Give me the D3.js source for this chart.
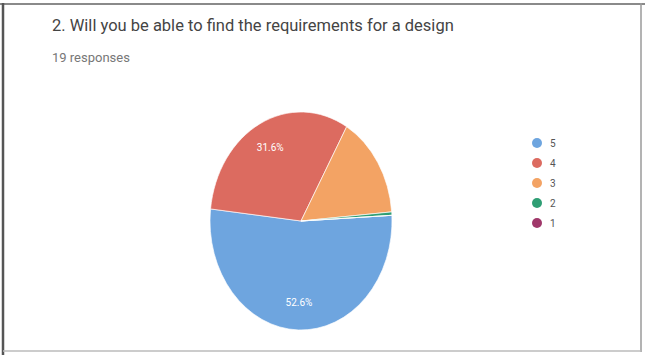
<!DOCTYPE html>
<html><head><meta charset="utf-8">
<script src="https://cdn.jsdelivr.net/npm/d3@7"></script>
<style>body{margin:0;background:#fff;}svg{display:block;}</style>
</head><body>
<svg id="c" width="645" height="355"></svg>
<script>
const title = "2. Will you be able to find the requirements for a design";
const subtitle = "19 responses";
const categories = ["5", "4", "3", "2", "1"];
const values = [52.6, 31.6, 15.3, 0.5, 0];
const colors = ["#6ea5df", "#dc6b60", "#f3a364", "#2f9e74", "#a0386a"];

const svg = d3.select("#c");
// frame
svg.append("rect").attr("x", 0).attr("y", 0).attr("width", 645).attr("height", 355).attr("fill", "#fff");
svg.append("line").attr("x1", 0).attr("x2", 645).attr("y1", 4).attr("y2", 4).attr("stroke", "#8a8a8a").attr("stroke-width", 2);
svg.append("line").attr("x1", 3).attr("x2", 3).attr("y1", 3).attr("y2", 355).attr("stroke", "#555").attr("stroke-width", 2.5);
svg.append("line").attr("x1", 641).attr("x2", 641).attr("y1", 3).attr("y2", 352).attr("stroke", "#9a9a9a").attr("stroke-width", 1.5);
svg.append("line").attr("x1", 3).attr("x2", 641).attr("y1", 351).attr("y2", 351).attr("stroke", "#bbb").attr("stroke-width", 1.5);

svg.append("text").attr("x", 52).attr("y", 31).text(title)
  .attr("font-family", "Roboto, sans-serif").attr("font-size", 16.5).attr("fill", "#444");
svg.append("text").attr("x", 52).attr("y", 62).text(subtitle)
  .attr("font-family", "Roboto, sans-serif").attr("font-size", 13).attr("fill", "#777");

const cx = 301, cy = 221, rx = 91, ry = 109;
const pie = d3.pie().sort(null).value(d => d).startAngle(87 * Math.PI / 180).endAngle(87 * Math.PI / 180 + 2 * Math.PI);
const arcs = pie(values);
const arc = d3.arc().innerRadius(0).outerRadius(rx);
const g = svg.append("g").attr("transform", `translate(${cx},${cy}) scale(1,${ry / rx})`);
g.selectAll("path").data(arcs).join("path")
  .attr("d", arc).attr("fill", (d, i) => colors[i])
  .attr("stroke", "#fff").attr("stroke-width", 0.6);

const total = d3.sum(values);
const labelArc = d3.arc().innerRadius(rx * 0.75).outerRadius(rx * 0.75);
svg.append("g").selectAll("text").data(arcs.filter(d => d.value / total > 0.2)).join("text")
  .attr("x", d => cx + labelArc.centroid(d)[0])
  .attr("y", d => cy + labelArc.centroid(d)[1] * ry / rx + 3)
  .attr("text-anchor", "middle")
  .attr("font-family", "Roboto, sans-serif").attr("font-size", 10).attr("fill", "#fff")
  .text(d => d3.format(".1f")(d.value / total * 100) + "%");

const lg = svg.append("g").selectAll("g").data(categories).join("g")
  .attr("transform", (d, i) => `translate(537,${143 + i * 20})`);
lg.append("circle").attr("r", 5).attr("fill", (d, i) => colors[i]);
lg.append("text").attr("x", 13).attr("y", 4).text(d => d)
  .attr("font-family", "Roboto, sans-serif").attr("font-size", 10).attr("fill", "#555");
</script>
</body></html>
